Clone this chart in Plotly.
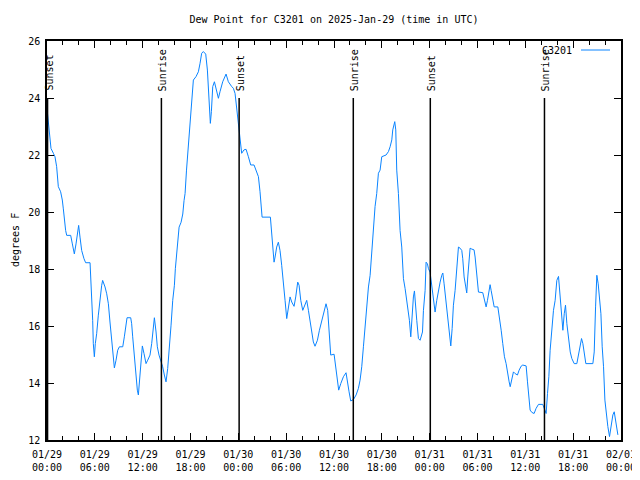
import pandas as pd
import plotly.graph_objects as go

TITLE = "Dew Point for C3201 on 2025-Jan-29 (time in UTC)"
SERIES_NAME = "C3201"
Y_LABEL = "degrees F"
START = "2025-01-29 00:00"

# hours after 2025-01-29 00:00 UTC
hours = [
    0.04, 0.17, 0.29, 0.5, 0.8, 1.0, 1.21, 1.42, 1.71, 1.92, 2.05, 2.17, 2.34, 2.47, 2.97,
    3.18, 3.43, 3.64, 3.85, 3.97, 4.14, 4.35, 4.64, 4.85, 5.4, 5.48, 5.6, 5.73, 5.81, 5.94,
    6.06, 6.23, 6.44, 6.65, 6.86, 6.98, 7.28, 7.49, 7.7, 7.9, 8.11, 8.32, 8.45, 8.66, 8.87,
    9.08, 9.5, 9.7, 9.91, 10.04, 10.5, 10.62, 10.75, 10.96, 11.17, 11.33, 11.46, 11.67, 11.79,
    11.96, 12.17, 12.42, 12.63, 12.92, 13.13, 13.26, 13.47, 13.68, 13.84, 14.05, 14.26, 14.51,
    14.72, 14.93, 15.14, 15.35, 15.56, 15.77, 15.98, 16.1, 16.27, 16.4, 16.57, 16.82, 17.03,
    17.19, 17.32, 17.5, 17.73, 17.94, 18.15, 18.36, 18.69, 18.99, 19.2, 19.4, 19.61, 19.91,
    20.12, 20.33, 20.49, 20.62, 20.79, 21.0, 21.2, 21.5, 21.7, 22.04, 22.46, 22.75, 23.17,
    23.38, 23.59, 23.8, 24.0, 24.13, 24.3, 24.42, 24.71, 24.97, 25.26, 25.55, 25.97, 26.3,
    26.52, 26.72, 26.85, 26.98, 28.02, 28.19, 28.32, 28.48, 28.61, 28.81, 29.02, 29.23, 29.44,
    29.65, 29.86, 30.07, 30.28, 30.49, 30.7, 30.99, 31.2, 31.45, 31.62, 31.83, 32.08, 32.29,
    32.58, 32.79, 33.0, 33.2, 33.41, 33.62, 33.92, 34.17, 34.46, 34.75, 35.0, 35.21, 35.38,
    35.59, 36.01, 36.22, 36.43, 36.59, 36.85, 37.18, 37.51, 37.68, 37.89, 38.1, 38.44, 38.77,
    39.06, 39.27, 39.48, 39.69, 39.9, 40.11, 40.32, 40.53, 40.74, 40.95, 41.15, 41.36, 41.57,
    41.78, 41.99, 42.53, 42.83, 43.04, 43.25, 43.37, 43.5, 43.62, 43.75, 43.87, 44.08, 44.29,
    44.5, 44.71, 44.92, 45.13, 45.34, 45.46, 45.63, 45.75, 45.96, 46.09, 46.21, 46.38, 46.59,
    46.8, 47.1, 47.22, 47.43, 47.55, 47.72, 47.85, 48.05, 48.18, 48.35, 48.56, 48.68, 48.89,
    49.1, 49.31, 49.52, 49.65, 49.81, 50.02, 50.23, 50.49, 50.65, 50.82, 50.98, 51.19, 51.4,
    51.61, 51.82, 52.03, 52.15, 52.32, 52.53, 52.65, 52.78, 52.95, 53.07, 53.28, 53.57, 53.7,
    53.91, 54.12, 54.66, 54.87, 55.08, 55.25, 55.46, 55.58, 55.71, 55.92, 56.09, 56.55, 56.76,
    56.97, 57.17, 57.38, 57.59, 57.76, 57.97, 58.1, 58.3, 58.51, 58.72, 59.01, 59.22, 59.47,
    59.68, 60.1, 60.27, 60.44, 60.6, 60.81, 61.1, 61.35, 61.65, 62.19, 62.4, 62.61, 62.78,
    62.95, 63.11, 63.32, 63.53, 63.74, 63.95, 64.16, 64.37, 64.58, 64.71, 64.88, 65.04, 65.21,
    65.42, 65.63, 65.83, 66.13, 66.46, 66.67, 66.88, 67.05, 67.22, 67.38, 67.59, 68.47, 68.64,
    68.81, 68.97, 69.14, 69.31, 69.48, 69.64, 69.81, 69.98, 70.15, 70.35, 70.56, 70.77, 70.98,
    71.15, 71.32, 71.48, 71.61,
]

dew_point = [
    23.52, 23.17, 22.76, 22.23, 22.06, 21.94, 21.59, 20.89, 20.71, 20.42, 20.11, 19.7, 19.35, 19.18, 19.18,
    18.88, 18.53, 18.88, 19.41, 19.53, 19.12, 18.65, 18.36, 18.22, 18.22, 17.83, 16.96, 16.2, 15.38, 14.92,
    15.38, 15.73, 16.38, 17.02, 17.43, 17.6, 17.37, 17.13, 16.78, 16.14, 15.44, 14.74, 14.53, 14.8, 15.15,
    15.27, 15.27, 15.62, 16.14, 16.29, 16.29, 16.08, 15.62, 14.92, 14.28, 13.75, 13.58, 14.22, 14.68,
    15.3, 15.03, 14.68, 14.8, 14.98, 15.38, 15.79, 16.29, 15.79, 15.27, 14.98, 14.8, 14.57,
    14.28, 14.04, 14.51, 15.15, 16.03, 16.9, 17.43, 18.01, 18.53, 19.06, 19.47, 19.64, 19.93,
    20.4, 20.65, 21.47, 22.29, 23.0, 23.93, 24.63, 24.75, 24.92, 25.22, 25.57, 25.63, 25.54,
    24.98, 24.05, 23.11, 23.52, 24.4, 24.57, 24.34, 23.99, 24.22, 24.57, 24.84, 24.57, 24.4,
    24.34, 24.16, 23.58, 23.0, 22.7, 22.41, 22.06, 22.18, 22.2, 21.94, 21.65, 21.65, 21.42,
    21.24, 20.71, 20.3, 19.82, 19.82, 19.23, 18.77, 18.24, 18.42, 18.77, 18.94, 18.65, 18.13,
    17.37, 16.9, 16.26, 16.67, 17.02, 16.84, 16.69, 17.02, 17.54, 17.43, 16.9, 16.55, 16.73,
    16.9, 16.55, 16.2, 15.85, 15.44, 15.29, 15.5, 15.85, 16.2, 16.49, 16.78, 16.55, 15.73,
    14.98, 15.01, 14.57, 13.93, 13.75, 13.98, 14.22, 14.36, 14.01, 13.69, 13.37, 13.42, 13.58,
    13.81, 14.1, 14.57, 15.27, 16.08, 16.9, 17.37, 17.78, 18.53, 19.53, 20.19, 20.65, 21.36,
    21.47, 21.94, 22.0, 22.12, 22.29, 22.53, 22.88, 23.05, 23.17, 22.88, 21.47, 20.65, 19.35,
    18.77, 17.66, 17.31, 16.9, 16.55, 16.2, 15.62, 16.2, 17.02, 17.23, 16.67, 16.2, 15.56,
    15.5, 15.79, 16.55, 17.25, 18.24, 18.18, 18.01, 17.89, 17.6, 17.02, 16.67, 16.49, 16.9,
    17.31, 17.54, 17.78, 17.86, 17.48, 16.9, 16.26, 15.56, 15.3, 15.91, 16.73, 17.25, 18.07,
    18.77, 18.73, 18.65, 18.36, 17.72, 17.37, 17.16, 17.72, 18.18, 18.73, 18.7, 18.67, 18.42,
    17.72, 17.19, 17.17, 16.9, 16.67, 16.9, 17.25, 17.45, 17.25, 16.9, 16.67, 16.67, 16.32,
    15.85, 15.38, 14.92, 14.68, 14.33, 14.04, 13.87, 14.16, 14.39, 14.33, 14.28, 14.45, 14.59,
    14.63, 14.6, 14.04, 13.63, 13.05, 12.97, 12.93, 13.11, 13.25, 13.25, 13.11, 12.93, 13.63,
    14.22, 15.15, 15.91, 16.55, 16.9, 17.6, 17.74, 17.02, 16.08, 15.85, 16.43, 16.73, 16.08,
    15.5, 15.09, 14.86, 14.68, 14.68, 14.98, 15.38, 15.56, 15.38, 14.98, 14.68, 14.68, 15.09,
    16.67, 17.78, 17.48, 17.02, 16.43, 15.27, 14.57, 13.4, 12.93, 12.47, 12.12, 12.47, 12.88,
    12.99, 12.7, 12.35, 12.18,
]

# sun events (hours after start)
event_hours = [0.07, 14.35, 24.1, 38.42, 48.08, 62.4]
event_labels = ["Sunset", "Sunrise", "Sunset", "Sunrise", "Sunset", "Sunrise"]

tick_hours = [0, 6, 12, 18, 24, 30, 36, 42, 48, 54, 60, 66, 72]
y_ticks = [12, 14, 16, 18, 20, 22, 24, 26]
Y_MIN, Y_MAX = 12, 26
EVENT_TOP = 24

base = pd.Timestamp(START)
times = [base + pd.Timedelta(hours=h) for h in hours]
tick_times = [base + pd.Timedelta(hours=h) for h in tick_hours]
tick_text = [t.strftime("%m/%d") + "<br>" + t.strftime("%H:%M") for t in tick_times]
event_times = [base + pd.Timedelta(hours=h) for h in event_hours]

FONT = "DejaVu Sans Mono"
LINE_COLOR = "#0a84ff"

# the page body has an 8px margin; size the figure so the plot lands where the reference has it
OFF = 8
W, H = 640 - OFF, 480 - OFF
L, R, T, B = 47 - OFF, 19, 41 - OFF, 40
PW, PH = W - L - R, H - T - B

fig = go.Figure()
fig.add_trace(go.Scatter(x=times, y=dew_point, mode="lines", name=SERIES_NAME,
                         line=dict(color=LINE_COLOR, width=1), showlegend=False))

for t, lab in zip(event_times, event_labels):
    fig.add_shape(type="line", xref="x", yref="y", x0=t, x1=t, y0=Y_MIN, y1=EVENT_TOP,
                  line=dict(color="black", width=1.5), layer="above")
    fig.add_annotation(x=t, y=EVENT_TOP, xref="x", yref="y", text=lab, textangle=-90,
                       showarrow=False, yanchor="bottom", xanchor="center", yshift=5, xshift=1,
                       font=dict(family=FONT, size=10, color="black"))

# legend (gnuplot style: text then line sample)
leg_y = (440 - 50) / PH
fig.add_annotation(x=(574 - 47) / PW, y=leg_y, xref="paper", yref="paper",
                   text=SERIES_NAME, showarrow=False, xanchor="right", yanchor="middle",
                   font=dict(family=FONT, size=10, color="black"))
fig.add_shape(type="line", xref="paper", yref="paper",
              x0=(581 - 47) / PW, x1=(610 - 47) / PW, y0=leg_y, y1=leg_y,
              line=dict(color=LINE_COLOR, width=1))

# y-axis title, kept fully inside the figure
fig.add_annotation(x=(OFF + 1 - 47) / PW, y=0.5, xref="paper", yref="paper", text=Y_LABEL,
                   textangle=-90, showarrow=False, xanchor="left", yanchor="middle",
                   borderpad=0,
                   font=dict(family=FONT, size=10, color="black"))

fig.update_layout(
    width=W, height=H,
    margin=dict(l=L, r=R, t=T, b=B, autoexpand=False),
    paper_bgcolor="white", plot_bgcolor="white",
    font=dict(family=FONT, size=10, color="black"),
    title=dict(text=TITLE, x=(334 - OFF) / W, xanchor="center", xref="container",
               y=1 - (19 - OFF) / H, yanchor="middle", yref="container",
               font=dict(family=FONT, size=10, color="black")),
)
fig.update_xaxes(
    range=[tick_times[0], tick_times[-1]], tickvals=tick_times, ticktext=tick_text,
    showgrid=False, zeroline=False, showline=True, linecolor="black", linewidth=1.5,
    mirror="ticks", ticks="inside", ticklen=7, tickcolor="black", automargin=False,
    ticklabelstandoff=4,
    minor=dict(dtick=2 * 3600 * 1000, tick0=tick_times[0], ticks="inside", ticklen=4,
               tickcolor="black", showgrid=False),
    tickfont=dict(family=FONT, size=10, color="black"),
)
fig.update_yaxes(
    range=[Y_MIN, Y_MAX], tickvals=y_ticks, showgrid=False, zeroline=False,
    showline=True, linecolor="black", linewidth=1.5, mirror="ticks", automargin=False,
    ticks="inside", ticklen=7, tickcolor="black", ticklabelstandoff=3,
    tickfont=dict(family=FONT, size=10, color="black"),
)

fig.write_html("out.html")
